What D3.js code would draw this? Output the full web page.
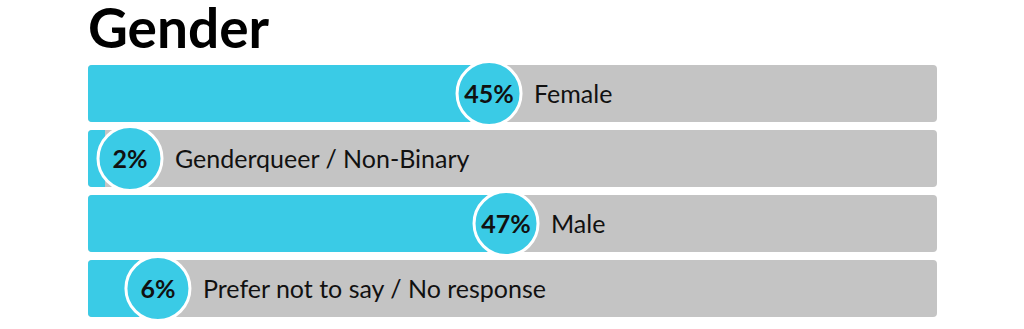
<!DOCTYPE html>
<html>
<head>
<meta charset="utf-8">
<script src="https://cdn.jsdelivr.net/npm/d3@7"></script>
<style>
  html, body { margin: 0; padding: 0; background: #fff; }
  svg { display: block; }
</style>
</head>
<body>
<svg id="chart" width="1024" height="329"></svg>
<script>
// Gender breakdown of respondents (percent)
const categories = ["Female", "Genderqueer / Non-Binary", "Male", "Prefer not to say / No response"];
const values = [45, 2, 47, 6];
const title = "Gender";

const W = 1024, H = 329;
const margin = { left: 88, right: 87, top: 65 };
const barH = 57, step = 65, gap = step - barH;

const svg = d3.select("#chart");
const font = "Lato, 'Open Sans', sans-serif";

const x = d3.scaleLinear().domain([0, 100]).range([margin.left, W - margin.right]);
const y = d3.scaleBand().domain(categories)
  .range([margin.top, margin.top + step * categories.length - gap])
  .paddingInner(gap / step).paddingOuter(0);

svg.append("text")
  .attr("x", margin.left).attr("y", 48)
  .attr("font-family", font).attr("font-weight", 700)
  .attr("font-size", 55).attr("fill", "#000")
  .text(title);

const rows = svg.selectAll("g.row")
  .data(categories.map((c, i) => ({ c, v: values[i] })))
  .join("g").attr("class", "row");

const clipDefs = svg.append("defs");
rows.each(function(d, i) {
  clipDefs.append("clipPath").attr("id", "clip" + i)
    .append("rect")
    .attr("x", x(0)).attr("y", y(d.c))
    .attr("width", x(100) - x(0)).attr("height", y.bandwidth())
    .attr("rx", 4);
});

// grey track
rows.append("rect")
  .attr("x", x(0)).attr("y", d => y(d.c))
  .attr("width", x(100) - x(0)).attr("height", y.bandwidth())
  .attr("rx", 4).attr("fill", "#c4c4c4");

// value fill
rows.append("rect")
  .attr("clip-path", (d, i) => `url(#clip${i})`)
  .attr("x", x(0)).attr("y", d => y(d.c))
  .attr("width", d => x(d.v) - x(0)).attr("height", y.bandwidth())
  .attr("fill", "#3acbe6");

const r = 32;
const cx = d => Math.max(x(d.v) + 19, x(0) + 42);

rows.append("circle")
  .attr("cx", cx).attr("cy", d => y(d.c) + y.bandwidth() / 2)
  .attr("r", r)
  .attr("fill", "#3acbe6").attr("stroke", "#fff").attr("stroke-width", 3);

rows.append("text")
  .attr("x", cx).attr("y", d => y(d.c) + y.bandwidth() / 2)
  .attr("dy", "0.36em").attr("text-anchor", "middle")
  .attr("font-family", font).attr("font-weight", 700)
  .attr("font-size", 25).attr("fill", "#111")
  .text(d => d.v + "%");

rows.append("text")
  .attr("x", d => cx(d) + r + 13).attr("y", d => y(d.c) + y.bandwidth() / 2)
  .attr("dy", "0.36em")
  .attr("font-family", font).attr("font-weight", 400)
  .attr("font-size", 25).attr("fill", "#111")
  .text(d => d.c);
</script>
</body>
</html>
